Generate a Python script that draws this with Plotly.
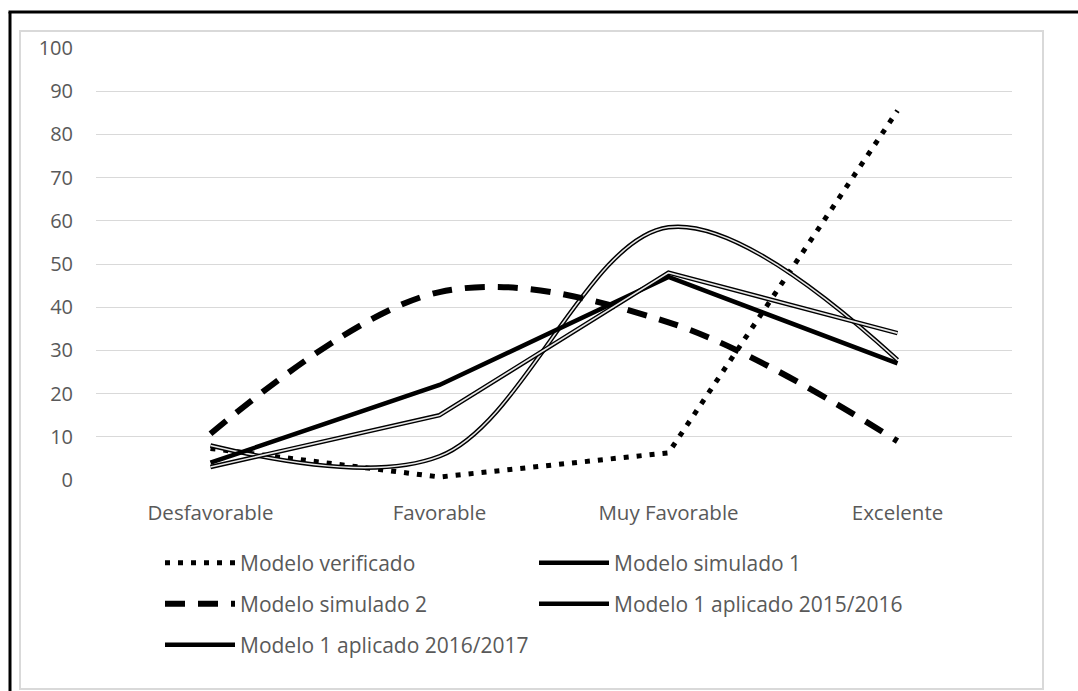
import plotly.graph_objects as go

categories = ["Desfavorable", "Favorable", "Muy Favorable", "Excelente"]
modelo_verificado = [7.3, 0.7, 6.3, 85.5]
modelo_simulado_1 = [8.0, 5.5, 58.5, 27.8]
modelo_simulado_2 = [10.7, 43.5, 36.5, 9.0]
aplicado_2015_2016 = [4.0, 22.0, 47.0, 27.0]
aplicado_2016_2017 = [3.0, 15.0, 48.0, 34.0]
y_ticks = list(range(0, 101, 10))

W, H = 1078, 691
L, R, T, B = 96, 1012, 48, 480  # plot area pixel box


def px(x):
    return (x - L) / (R - L)


def py(y):
    return (B - y) / (B - T)


TXT = "#595959"
FONT = "Open Sans"

fig = go.Figure()

fig.add_trace(go.Scatter(
    x=categories, y=modelo_verificado, name="Modelo verificado", mode="lines",
    line=dict(color="black", width=5, dash="5px,8px"), legend="legend"))

fig.add_trace(go.Scatter(
    x=categories, y=modelo_simulado_1, name="Modelo simulado 1", mode="lines",
    line=dict(color="black", width=4.5, shape="spline", smoothing=1), legend="legend"))
fig.add_trace(go.Scatter(
    x=categories, y=modelo_simulado_1, name="Modelo simulado 1", mode="lines",
    line=dict(color="#e6e6e6", width=1.6, shape="spline", smoothing=1),
    showlegend=False, hoverinfo="skip"))

fig.add_trace(go.Scatter(
    x=categories, y=modelo_simulado_2, name="Modelo simulado 2", mode="lines",
    line=dict(color="black", width=6, dash="20px,13px", shape="spline", smoothing=1),
    legend="legend2"))

fig.add_trace(go.Scatter(
    x=categories, y=aplicado_2015_2016, name="Modelo 1 aplicado 2015/2016", mode="lines",
    line=dict(color="black", width=4.5), legend="legend2"))

fig.add_trace(go.Scatter(
    x=categories, y=aplicado_2016_2017, name="Modelo 1 aplicado 2016/2017", mode="lines",
    line=dict(color="black", width=4.5), legend="legend3"))
fig.add_trace(go.Scatter(
    x=categories, y=aplicado_2016_2017, name="Modelo 1 aplicado 2016/2017", mode="lines",
    line=dict(color="#e6e6e6", width=1.6), showlegend=False, hoverinfo="skip"))

leg_common = dict(orientation="h", xanchor="left", yanchor="middle",
                  entrywidth=289, entrywidthmode="pixels", itemwidth=70,
                  font=dict(family=FONT, size=21, color=TXT),
                  bgcolor="rgba(0,0,0,0)", itemclick=False, itemdoubleclick=False)

shapes = [
    dict(type="rect", xref="paper", yref="paper",
         x0=px(20), x1=px(1043), y0=py(689), y1=py(31),
         line=dict(color="#d9d9d9", width=2), layer="below"),
    dict(type="line", xref="paper", yref="paper",
         x0=px(8.5), x1=px(1080), y0=py(12), y1=py(12),
         line=dict(color="black", width=3)),
    dict(type="line", xref="paper", yref="paper",
         x0=px(10), x1=px(10), y0=py(12), y1=py(700),
         line=dict(color="black", width=3)),
]

fig.update_layout(
    width=W, height=H,
    margin=dict(l=L, r=W - R, t=T, b=H - B, autoexpand=False),
    paper_bgcolor="white", plot_bgcolor="white",
    font=dict(family=FONT, size=20, color=TXT),
    xaxis=dict(type="category", categoryorder="array", categoryarray=categories,
               range=[-0.5, 3.5], showgrid=False, showline=False, zeroline=False,
               ticks="", ticklabelstandoff=18,
               tickfont=dict(family=FONT, size=20.5, color=TXT)),
    yaxis=dict(range=[0, 100], tickvals=y_ticks, showgrid=True, gridcolor="#d9d9d9",
               gridwidth=1, zeroline=False, showline=False, ticks="",
               ticklabelstandoff=22,
               tickfont=dict(family=FONT, size=20, color=TXT)),
    legend=dict(x=px(160), y=py(563), **leg_common),
    legend2=dict(x=px(160), y=py(604), **leg_common),
    legend3=dict(x=px(160), y=py(645), **leg_common),
    shapes=shapes,
    showlegend=True,
)

fig.write_html("out.html", config={"displayModeBar": False},
               post_script="document.body.style.margin='0';document.body.style.overflow='hidden';")
